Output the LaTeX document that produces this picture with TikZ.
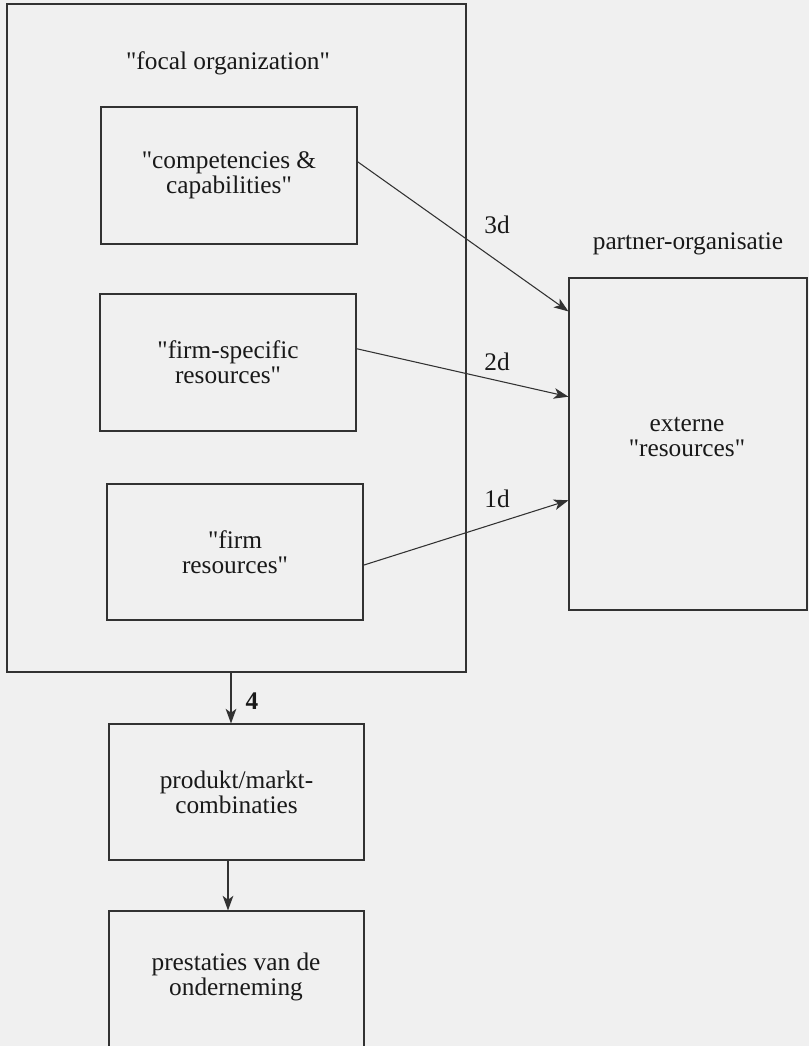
\documentclass[tikz,border=0pt]{standalone}
\usepackage{fontspec}
\setmainfont{Liberation Serif}
\usetikzlibrary{arrows.meta,calc}

\definecolor{paper}{RGB}{240,240,240}
\definecolor{ink}{RGB}{50,50,50}

\newcommand{\qt}{\textquotedbl}

\tikzset{
  box/.style={draw=ink, line width=0.8pt, inner sep=0pt, align=center,
              text=black!90},
  lbl/.style={inner sep=0pt, align=center, text=black!90},
  link/.style={draw=ink, line width=0.8pt,
               -{Stealth[length=11pt, width=8pt, inset=3pt]}},
}

\begin{document}
\begin{tikzpicture}[x=0.75pt, y=-0.75pt,
  every node/.append style={font=\fontsize{19}{18.5}\selectfont}]
  \useasboundingbox (0,0) rectangle (809,1046);
  \clip (0,0) rectangle (809,1046);
  \fill[paper] (0,0) rectangle (809,1046);

  % focal organization with its three inner blocks
  \node[box, minimum width=344.25pt, minimum height=501pt] (focal) at (236.5,338) {};
  \node[lbl] (focaltxt) at (228,63) {\qt focal organization\qt};

  \node[box, minimum width=192pt, minimum height=102.75pt] (comp) at (229,175.5)
    {\qt competencies \&\\ capabilities\qt};
  \node[box, minimum width=192pt, minimum height=102.75pt] (fspec) at (228,362.5)
    {\qt firm-specific\\ resources\qt};
  \node[box, minimum width=192pt, minimum height=102pt] (fres) at (235,552)
    {\qt firm\\ resources\qt};

  % partner organisation
  \node[box, minimum width=178.5pt, minimum height=249pt] (partner) at (688,444) {};
  \node[lbl] (partnertxt) at (687,437) {externe\\ \qt resources\qt};
  \node[lbl] (partnerhead) at (688,244) {partner-organisatie};

  % points on the partner's left side where the links arrive
  \coordinate (in3) at ($(partner.north west)!0.102!(partner.south west)$);
  \coordinate (in2) at ($(partner.north west)!0.358!(partner.south west)$);
  \coordinate (in1) at ($(partner.north west)!0.669!(partner.south west)$);
  % and where they leave the inner blocks
  \coordinate (out3) at ($(comp.north east)!0.40!(comp.south east)$);
  \coordinate (out2) at ($(fspec.north east)!0.40!(fspec.south east)$);
  \coordinate (out1) at ($(fres.north east)!0.596!(fres.south east)$);

  \draw[link] (out3) -- (in3);
  \draw[link] (out2) -- (in2);
  \draw[link] (out1) -- (in1);
  \node[lbl] (l3) at (497,225) {3d};
  \node[lbl] (l2) at (497,362) {2d};
  \node[lbl] (l1) at (497,499) {1d};

  % outcome chain
  \node[box, minimum width=191.25pt, minimum height=102pt] (pmc) at (236.5,792)
    {produkt/markt-\\ combinaties};
  \node[box, minimum width=191.25pt, minimum height=120pt] (perf) at (236.5,991) {};
  \node[lbl] (perftxt) at (236,977) {prestaties van de\\ onderneming};

  \coordinate (d4a) at ($(focal.south)+(-5.5,0)$);
  \coordinate (d4b) at ($(pmc.north)+(-5.5,0)$);
  \coordinate (d5a) at ($(pmc.south)+(-8.5,0)$);
  \coordinate (d5b) at ($(perf.north)+(-8.5,0)$);
  \draw[link] (d4a) -- (d4b);
  \node[lbl, font=\fontsize{19}{18.5}\selectfont\bfseries] (l4) at (252,701) {4};
  \draw[link] (d5a) -- (d5b);
\end{tikzpicture}
\end{document}
